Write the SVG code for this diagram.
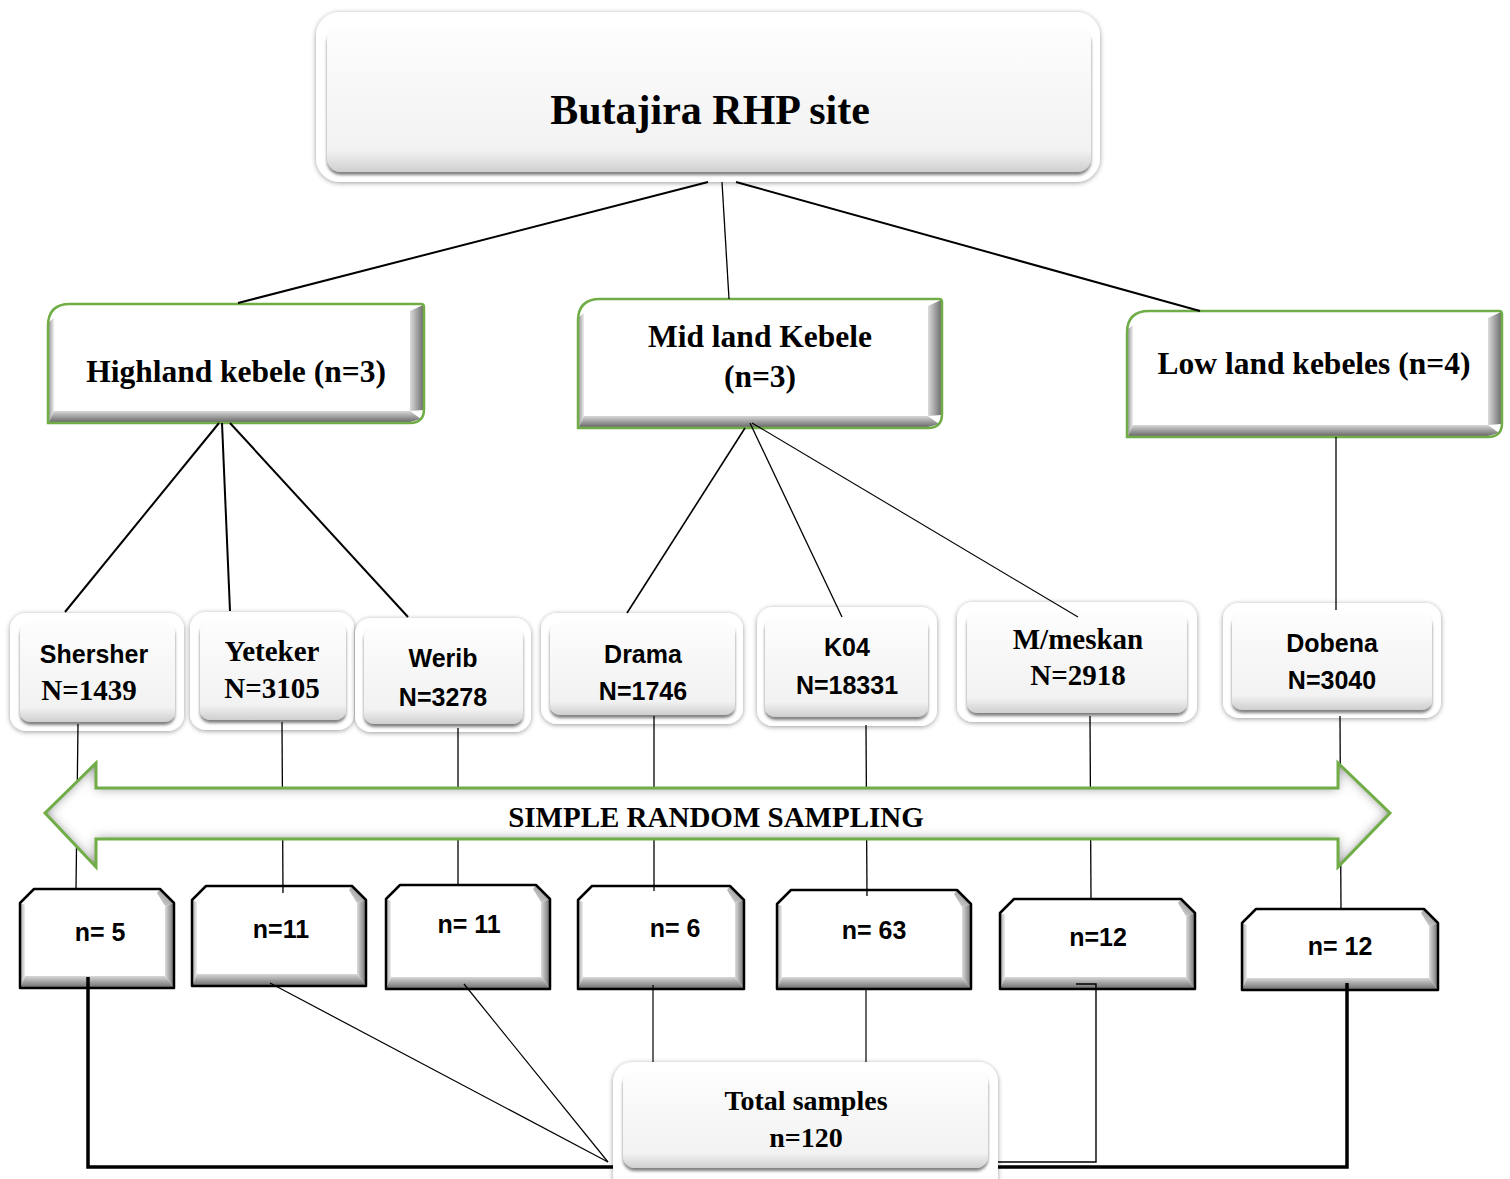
<svg xmlns="http://www.w3.org/2000/svg" width="1510" height="1179" viewBox="0 0 1510 1179">
<defs>
<style>
.conn{stroke:#000;fill:none}
.ts{font-family:"Liberation Serif","Times New Roman",serif;font-weight:bold;text-anchor:middle;fill:#000}
.tn{font-family:"Liberation Sans",Arial,sans-serif;font-weight:bold;text-anchor:middle;fill:#000}
.outer{fill:#fff;filter:url(#fOuter)}
.inner{fill:url(#gInner);filter:url(#fInner)}
.lvl2{fill:none;stroke:#70ad47;stroke-width:2.5}
.samp{fill:none;stroke:#000;stroke-width:2.5;stroke-linejoin:round}
.bl{fill:url(#gL)}
.br{fill:url(#gR)}
.bb{fill:url(#gB)}
.bt{fill:url(#gT)}
</style>
<filter id="fOuter" x="-10%" y="-10%" width="120%" height="125%">
<feDropShadow dx="0" dy="1" stdDeviation="2.5" flood-color="#000" flood-opacity="0.4"/>
</filter>
<filter id="fInner" x="-10%" y="-10%" width="120%" height="125%">
<feDropShadow dx="0" dy="3" stdDeviation="1.8" flood-color="#000" flood-opacity="0.5"/>
</filter>
<filter id="fGlow" x="-5%" y="-20%" width="110%" height="140%">
<feFlood flood-color="#555" result="fl"/>
<feComposite in="fl" in2="SourceAlpha" operator="out" result="outside"/>
<feGaussianBlur in="outside" stdDeviation="6" result="bl"/>
<feComposite in="bl" in2="SourceAlpha" operator="in" result="ig"/>
<feMerge><feMergeNode in="SourceGraphic"/><feMergeNode in="ig"/></feMerge>
</filter>
<linearGradient id="gInner" x1="0" y1="0" x2="0" y2="1">
<stop offset="0" stop-color="#fdfdfd"/>
<stop offset="0.85" stop-color="#f2f2f2"/>
<stop offset="1" stop-color="#cfcfcf"/>
</linearGradient>
<linearGradient id="gR" x1="0" y1="0" x2="1" y2="0">
<stop offset="0" stop-color="#dcdcdc"/>
<stop offset="1" stop-color="#707070"/>
</linearGradient>
<linearGradient id="gB" x1="0" y1="0" x2="0" y2="1">
<stop offset="0" stop-color="#d8d8d8"/>
<stop offset="1" stop-color="#6a6a6a"/>
</linearGradient>
<linearGradient id="gL" x1="0" y1="0" x2="1" y2="0">
<stop offset="0" stop-color="#a0a0a0"/>
<stop offset="1" stop-color="#eeeeee"/>
</linearGradient>
<linearGradient id="gT" x1="1" y1="0" x2="0" y2="1">
<stop offset="0" stop-color="#808080"/>
<stop offset="1" stop-color="#dddddd"/>
</linearGradient>
</defs>

<rect width="1510" height="1179" fill="#fff"/>

<g id="s1">
<path d="M20,903 L34,889 H160 L174,903 V988 H20 Z" fill="#fff"/>
<polygon class="bl" points="20,903 25,905 25,976 20,988"/>
<polygon class="bt" points="160,889 174,903 165,906 157,893"/>
<polygon class="br" points="174,903 174,988 165,976 165,906"/>
<polygon class="bb" points="20,988 25,976 165,976 174,988"/>
<path class="samp" d="M20,903 L34,889 H160 L174,903 V988 H20 Z"/>
<text class="tn" x="100" y="941" font-size="25">n= 5</text>
</g>
<g id="s2">
<path d="M192,900 L206,886 H352 L366,900 V986 H192 Z" fill="#fff"/>
<polygon class="bl" points="192,900 197,902 197,974 192,986"/>
<polygon class="bt" points="352,886 366,900 357,903 349,890"/>
<polygon class="br" points="366,900 366,986 357,974 357,903"/>
<polygon class="bb" points="192,986 197,974 357,974 366,986"/>
<path class="samp" d="M192,900 L206,886 H352 L366,900 V986 H192 Z"/>
<text class="tn" x="281" y="938" font-size="25">n=11</text>
</g>
<g id="s3">
<path d="M386,899 L400,885 H536 L550,899 V989 H386 Z" fill="#fff"/>
<polygon class="bl" points="386,899 391,901 391,977 386,989"/>
<polygon class="bt" points="536,885 550,899 541,902 533,889"/>
<polygon class="br" points="550,899 550,989 541,977 541,902"/>
<polygon class="bb" points="386,989 391,977 541,977 550,989"/>
<path class="samp" d="M386,899 L400,885 H536 L550,899 V989 H386 Z"/>
<text class="tn" x="469" y="933" font-size="25">n= 11</text>
</g>
<g id="s4">
<path d="M578,900 L592,886 H730 L744,900 V989 H578 Z" fill="#fff"/>
<polygon class="bl" points="578,900 583,902 583,977 578,989"/>
<polygon class="bt" points="730,886 744,900 735,903 727,890"/>
<polygon class="br" points="744,900 744,989 735,977 735,903"/>
<polygon class="bb" points="578,989 583,977 735,977 744,989"/>
<path class="samp" d="M578,900 L592,886 H730 L744,900 V989 H578 Z"/>
<text class="tn" x="675" y="937" font-size="25">n= 6</text>
</g>
<g id="s5">
<path d="M777,904 L791,890 H957 L971,904 V989 H777 Z" fill="#fff"/>
<polygon class="bl" points="777,904 782,906 782,977 777,989"/>
<polygon class="bt" points="957,890 971,904 962,907 954,894"/>
<polygon class="br" points="971,904 971,989 962,977 962,907"/>
<polygon class="bb" points="777,989 782,977 962,977 971,989"/>
<path class="samp" d="M777,904 L791,890 H957 L971,904 V989 H777 Z"/>
<text class="tn" x="874" y="939" font-size="25">n= 63</text>
</g>
<g id="s6">
<path d="M1000,913 L1014,899 H1181 L1195,913 V989 H1000 Z" fill="#fff"/>
<polygon class="bl" points="1000,913 1005,915 1005,977 1000,989"/>
<polygon class="bt" points="1181,899 1195,913 1186,916 1178,903"/>
<polygon class="br" points="1195,913 1195,989 1186,977 1186,916"/>
<polygon class="bb" points="1000,989 1005,977 1186,977 1195,989"/>
<path class="samp" d="M1000,913 L1014,899 H1181 L1195,913 V989 H1000 Z"/>
<text class="tn" x="1098" y="946" font-size="25">n=12</text>
</g>
<g id="s7">
<path d="M1242,923 L1256,909 H1424 L1438,923 V990 H1242 Z" fill="#fff"/>
<polygon class="bl" points="1242,923 1247,925 1247,978 1242,990"/>
<polygon class="bt" points="1424,909 1438,923 1429,926 1421,913"/>
<polygon class="br" points="1438,923 1438,990 1429,978 1429,926"/>
<polygon class="bb" points="1242,990 1247,978 1429,978 1438,990"/>
<path class="samp" d="M1242,923 L1256,909 H1424 L1438,923 V990 H1242 Z"/>
<text class="tn" x="1340" y="955" font-size="25">n= 12</text>
</g>

<g id="top">
<rect class="outer" x="316" y="12" width="784" height="170" rx="24"/>
<rect class="inner" x="327" y="27" width="764" height="145" rx="14"/>
<text class="ts" x="710" y="124" font-size="42">Butajira RHP site</text>
</g>

<g id="highland">
<path d="M48,326 Q48,304 70,304 H421 Q424,304 424,307 V409 Q424,423 410,423 H48 Z" fill="#fff"/>
<polygon class="bl" points="49,322 54,318 54,411 49,422"/>
<polygon class="br" points="410,311 423,305 423,410 410,411"/>
<polygon class="bb" points="49,422 54,411 410,411 421,419 410,422"/>
<path class="lvl2" d="M48,326 Q48,304 70,304 H421 Q424,304 424,307 V409 Q424,423 410,423 H48 Z"/>
<text class="ts" x="236" y="382" font-size="31.5">Highland kebele (n=3)</text>
</g>

<g id="midland">
<path d="M578,321 Q578,299 600,299 H939 Q942,299 942,302 V414 Q942,428 928,428 H578 Z" fill="#fff"/>
<polygon class="bl" points="579,317 584,313 584,416 579,427"/>
<polygon class="br" points="928,306 941,300 941,415 928,416"/>
<polygon class="bb" points="579,427 584,416 928,416 939,424 928,427"/>
<path class="lvl2" d="M578,321 Q578,299 600,299 H939 Q942,299 942,302 V414 Q942,428 928,428 H578 Z"/>
<text class="ts" x="760" y="347" font-size="31.5">Mid land Kebele</text>
<text class="ts" x="760" y="387" font-size="31.5">(n=3)</text>
</g>

<g id="lowland">
<path d="M1127,333 Q1127,311 1149,311 H1499 Q1502,311 1502,314 V423 Q1502,437 1488,437 H1127 Z" fill="#fff"/>
<polygon class="bl" points="1128,329 1133,325 1133,425 1128,436"/>
<polygon class="br" points="1488,318 1501,312 1501,424 1488,425"/>
<polygon class="bb" points="1128,436 1133,425 1488,425 1499,433 1488,436"/>
<path class="lvl2" d="M1127,333 Q1127,311 1149,311 H1499 Q1502,311 1502,314 V423 Q1502,437 1488,437 H1127 Z"/>
<text class="ts" x="1314" y="374" font-size="31.5">Low land kebeles (n=4)</text>
</g>

<g id="shersher">
<rect class="outer" x="10" y="613" width="174" height="118" rx="16"/>
<rect class="inner" x="20" y="622" width="155" height="100" rx="10"/>
<text class="tn" x="94" y="663" font-size="25">Shersher</text>
<text class="ts" x="89" y="700" font-size="29">N=1439</text>
</g>
<g id="yeteker">
<rect class="outer" x="190" y="612" width="164" height="118" rx="16"/>
<rect class="inner" x="200" y="621" width="146" height="99" rx="10"/>
<text class="ts" x="272" y="661" font-size="29">Yeteker</text>
<text class="ts" x="272" y="698" font-size="29">N=3105</text>
</g>
<g id="werib">
<rect class="outer" x="355" y="618" width="176" height="114" rx="16"/>
<rect class="inner" x="364" y="627" width="159" height="97" rx="10"/>
<text class="tn" x="443" y="667" font-size="25">Werib</text>
<text class="tn" x="443" y="706" font-size="25">N=3278</text>
</g>
<g id="drama">
<rect class="outer" x="541" y="613" width="202" height="111" rx="16"/>
<rect class="inner" x="550" y="622" width="185" height="93" rx="10"/>
<text class="tn" x="643" y="663" font-size="25">Drama</text>
<text class="tn" x="643" y="700" font-size="25">N=1746</text>
</g>
<g id="k04">
<rect class="outer" x="757" y="607" width="180" height="119" rx="16"/>
<rect class="inner" x="765" y="617" width="163" height="100" rx="10"/>
<text class="tn" x="847" y="656" font-size="25">K04</text>
<text class="tn" x="847" y="694" font-size="25">N=18331</text>
</g>
<g id="mmeskan">
<rect class="outer" x="957" y="602" width="240" height="120" rx="16"/>
<rect class="inner" x="967" y="612" width="220" height="101" rx="10"/>
<text class="ts" x="1078" y="649" font-size="29">M/meskan</text>
<text class="ts" x="1078" y="685" font-size="29">N=2918</text>
</g>
<g id="dobena">
<rect class="outer" x="1223" y="603" width="218" height="115" rx="16"/>
<rect class="inner" x="1232" y="613" width="200" height="97" rx="10"/>
<text class="tn" x="1332" y="652" font-size="25">Dobena</text>
<text class="tn" x="1332" y="689" font-size="25">N=3040</text>
</g>

<g id="connectors">
<line class="conn" x1="708" y1="182" x2="238" y2="303" stroke-width="2"/>
<line class="conn" x1="722" y1="182" x2="729" y2="299" stroke-width="1.3"/>
<line class="conn" x1="736" y1="182" x2="1200" y2="311" stroke-width="2"/>
<line class="conn" x1="219" y1="423" x2="65" y2="612" stroke-width="2"/>
<line class="conn" x1="222" y1="423" x2="230" y2="611" stroke-width="2"/>
<line class="conn" x1="230" y1="423" x2="408" y2="617" stroke-width="2"/>
<line class="conn" x1="745" y1="428" x2="627" y2="613" stroke-width="1.6"/>
<line class="conn" x1="750" y1="423" x2="842" y2="617" stroke-width="1.3"/>
<line class="conn" x1="752" y1="423" x2="1078" y2="617" stroke-width="1.1"/>
<line class="conn" x1="1336" y1="437" x2="1336" y2="610" stroke-width="1.3"/>
<line class="conn" x1="78" y1="724" x2="76" y2="890" stroke-width="1.3"/>
<line class="conn" x1="282" y1="722" x2="283" y2="893" stroke-width="1.3"/>
<line class="conn" x1="458" y1="728" x2="458" y2="886" stroke-width="1.3"/>
<line class="conn" x1="654" y1="716" x2="654" y2="891" stroke-width="1.3"/>
<line class="conn" x1="866" y1="725" x2="867" y2="896" stroke-width="1.3"/>
<line class="conn" x1="1090" y1="716" x2="1091" y2="899" stroke-width="1.3"/>
<line class="conn" x1="1340" y1="716" x2="1341" y2="910" stroke-width="1.3"/>
<polyline class="conn" points="88,977 88,1167 620,1167" stroke-width="3.5"/>
<polyline class="conn" points="1347,983 1347,1167 990,1167" stroke-width="3.5"/>
<line class="conn" x1="270" y1="983" x2="608" y2="1162" stroke-width="1.2"/>
<line class="conn" x1="464" y1="984" x2="608" y2="1162" stroke-width="1.2"/>
<line class="conn" x1="653" y1="985" x2="653" y2="1063" stroke-width="1.2"/>
<line class="conn" x1="866" y1="988" x2="866" y2="1065" stroke-width="1.2"/>
<polyline class="conn" points="1076,984 1096,984 1096,1162 990,1162" stroke-width="1.4"/>
</g>

<g id="srs-arrow">
<path d="M45,813 L96,763 V788 H1338 V763 L1390,813 L1338,867 V839 H96 V867 Z" fill="#fff" filter="url(#fGlow)"/>
<path d="M45,813 L96,763 V788 H1338 V763 L1390,813 L1338,867 V839 H96 V867 Z" fill="none" stroke="#70ad47" stroke-width="3" stroke-linejoin="miter"/>
<text class="ts" x="716" y="827" font-size="29">SIMPLE RANDOM SAMPLING</text>
</g>

<g id="total">
<rect class="outer" x="613" y="1062" width="385" height="135" rx="20"/>
<rect class="inner" x="623" y="1071" width="365" height="97" rx="12"/>
<text class="ts" x="806" y="1110" font-size="28">Total samples</text>
<text class="ts" x="806" y="1147" font-size="28">n=120</text>
</g>
</svg>
